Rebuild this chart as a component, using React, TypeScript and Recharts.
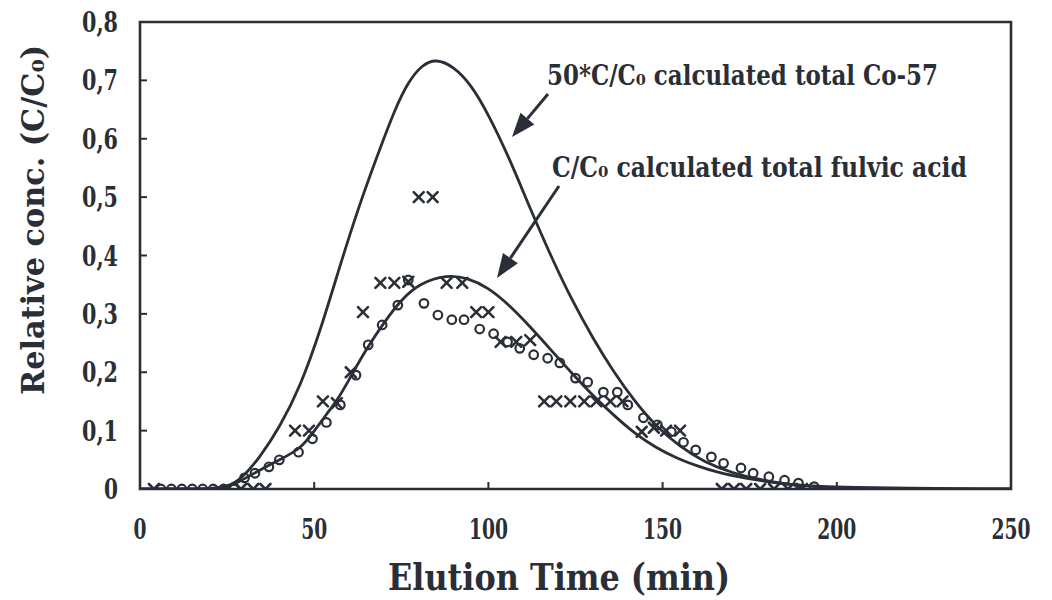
import React from 'react';
import { ComposedChart, Line, Scatter, XAxis, YAxis, ReferenceArea, Customized } from 'recharts';

const INK = '#2a2e36';
const FONT = '"DejaVu Serif", "Liberation Serif", serif';

const xTicks = [0, 50, 100, 150, 200, 250];
const yTicks = [0, 0.1, 0.2, 0.3, 0.4, 0.5, 0.6, 0.7, 0.8];

// calculated curve, 50*C/C0 total Co-57
const co57Time = [0, 10, 20, 25, 29, 34.5, 40, 46, 52, 58, 64, 69, 73, 77, 81, 85, 90, 95, 100, 106, 112, 118, 124, 130, 136, 142, 148, 155, 162, 170, 180, 190, 200, 215, 250];
const co57Value = [0, 0, 0, 0.004, 0.016, 0.055, 0.105, 0.175, 0.275, 0.395, 0.505, 0.585, 0.648, 0.698, 0.727, 0.737, 0.724, 0.693, 0.642, 0.567, 0.48, 0.398, 0.323, 0.258, 0.2, 0.15, 0.108, 0.072, 0.046, 0.027, 0.013, 0.005, 0.0015, 0, 0];

// calculated curve, C/C0 total fulvic acid
const fulvicTime = [0, 20, 25, 29, 34.5, 40, 46, 50, 53.5, 57, 61, 65, 70, 75, 80.5, 88, 94, 100, 106, 112, 118, 124, 130, 136, 142, 148, 154, 160, 166, 173, 185, 200, 250];
const fulvicValue = [0, 0, 0.002, 0.014, 0.033, 0.05, 0.068, 0.099, 0.128, 0.155, 0.198, 0.24, 0.285, 0.325, 0.353, 0.367, 0.362, 0.345, 0.315, 0.278, 0.238, 0.198, 0.16, 0.126, 0.095, 0.071, 0.053, 0.039, 0.028, 0.019, 0.008, 0.002, 0];

// measured, crosses
const crossTime = [4, 29, 32.5, 36, 44.5, 48.5, 52.5, 56.5, 60.5, 64, 69, 73, 77, 80, 84, 88, 92.5, 96.5, 100, 103.5, 108, 112, 116, 119.5, 123.5, 127.5, 131, 135, 138.5, 144, 147.5, 151, 155, 167, 170.5, 174, 178, 182, 186, 190];
const crossValue = [0, 0, 0, 0, 0.1, 0.1, 0.15, 0.147, 0.2, 0.303, 0.353, 0.353, 0.355, 0.5, 0.5, 0.353, 0.353, 0.303, 0.303, 0.252, 0.252, 0.255, 0.15, 0.15, 0.15, 0.15, 0.15, 0.15, 0.15, 0.098, 0.105, 0.1, 0.1, 0, 0, 0, 0, 0, 0, 0];

// measured, circles
const circleTime = [6, 9, 12, 15, 18, 21, 24, 27, 30, 33, 37, 40, 45.5, 49.5, 53.5, 57.5, 62, 65.5, 69.5, 74, 77, 81.5, 85.5, 89.5, 93, 97.5, 101.5, 105.5, 109, 113, 117, 120.5, 125, 128.5, 133, 137, 140, 144.5, 148.5, 152.5, 156, 159.5, 164, 167.5, 172.5, 176, 180.5, 185, 189, 193.5];
const circleValue = [0, 0, 0, 0, 0, 0, 0, 0, 0.019, 0.027, 0.038, 0.05, 0.063, 0.086, 0.114, 0.144, 0.195, 0.247, 0.281, 0.315, 0.358, 0.318, 0.298, 0.29, 0.29, 0.274, 0.266, 0.252, 0.241, 0.23, 0.224, 0.216, 0.19, 0.183, 0.166, 0.166, 0.144, 0.122, 0.11, 0.098, 0.08, 0.067, 0.055, 0.044, 0.036, 0.027, 0.021, 0.015, 0.01, 0.004];

const co57Curve = co57Time.map((t, i) => ({ t, v: co57Value[i] }));
const fulvicCurve = fulvicTime.map((t, i) => ({ t, v: fulvicValue[i] }));
const crossPoints = crossTime.map((t, i) => ({ t, v: crossValue[i] }));
const circlePoints = circleTime.map((t, i) => ({ t, v: circleValue[i] }));

const fmtY = (v: number) => (v === 0 ? '0' : v.toFixed(1).replace('.', ','));

function XTick({ x, y, payload }: any) {
  const label = String(payload.value);
  const edge = payload.value === 0 || payload.value === 250;
  return (
    <g>
      {!edge && <line x1={x} x2={x} y1={y} y2={y - 7} stroke={INK} strokeWidth={2} />}
      <text x={x} y={y + 50} textAnchor="middle" fill={INK} fontFamily={FONT} fontWeight="bold" fontSize={27}
        textLength={label.length * 13} lengthAdjust="spacingAndGlyphs">{label}</text>
    </g>
  );
}

function YTick({ x, y, payload }: any) {
  const label = fmtY(payload.value);
  const w = label.length === 1 ? 14 : 36;
  return (
    <g>
      <line x1={x} x2={x + 7} y1={y} y2={y} stroke={INK} strokeWidth={2} />
      <text x={x - 22} y={y + 10} textAnchor="end" fill={INK} fontFamily={FONT} fontWeight="bold" fontSize={27}
        textLength={w} lengthAdjust="spacingAndGlyphs">{label}</text>
    </g>
  );
}

const CrossMark = ({ cx, cy }: any) => (
  <g stroke={INK} strokeWidth={2.6} strokeLinecap="round">
    <line x1={cx - 5} y1={cy - 5} x2={cx + 5} y2={cy + 5} />
    <line x1={cx - 5} y1={cy + 5} x2={cx + 5} y2={cy - 5} />
  </g>
);

const CircleMark = ({ cx, cy }: any) => (
  <circle cx={cx} cy={cy} r={4.3} fill="none" stroke={INK} strokeWidth={2.2} />
);

function Arrow({ x1, y1, x2, y2 }: { x1: number; y1: number; x2: number; y2: number }) {
  const dx = x2 - x1;
  const dy = y2 - y1;
  const len = Math.sqrt(dx * dx + dy * dy);
  const ux = dx / len;
  const uy = dy / len;
  const hl = 24;
  const hw = 9;
  const bx = x2 - ux * hl;
  const by = y2 - uy * hl;
  return (
    <g>
      <line x1={x1} y1={y1} x2={bx} y2={by} stroke={INK} strokeWidth={3} />
      <polygon points={`${x2},${y2} ${bx - uy * hw},${by + ux * hw} ${bx + uy * hw},${by - ux * hw}`} fill={INK} />
    </g>
  );
}

function Annotations() {
  return (
    <g fill={INK} fontFamily={FONT} fontWeight="bold">
      <text x={547} y={85} fontSize={27} textLength={391} lengthAdjust="spacingAndGlyphs">
        50*C/C₀ calculated total Co-57
      </text>
      <text x={552} y={177} fontSize={27} textLength={415} lengthAdjust="spacingAndGlyphs">
        C/C₀ calculated total fulvic acid
      </text>
      <Arrow x1={548} y1={94} x2={512} y2={137} />
      <Arrow x1={559} y1={186} x2={497} y2={278} />
      <text x={559} y={590} fontSize={37} textAnchor="middle" textLength={342} lengthAdjust="spacingAndGlyphs">
        Elution Time (min)
      </text>
      <text x={0} y={0} fontSize={31} textAnchor="middle" textLength={350} lengthAdjust="spacingAndGlyphs"
        transform="translate(44 220) rotate(-90)">
        Relative conc. (C/C₀)
      </text>
    </g>
  );
}

export default function App() {
  return (
    <div style={{ position: 'absolute', left: 0, top: 0, width: 1052, height: 600, background: '#fff' }}>
      <ComposedChart width={1052} height={600} margin={{ top: 22, right: 41, left: 0, bottom: 0 }}>
        <XAxis dataKey="t" type="number" domain={[0, 250]} ticks={xTicks} height={111} axisLine={false}
          tickLine={false} tickSize={0} tickMargin={0} tick={<XTick />} interval={0} allowDataOverflow />
        <YAxis dataKey="v" type="number" domain={[0, 0.8]} ticks={yTicks} width={140} axisLine={false}
          tickLine={false} tickSize={0} tickMargin={0} tick={<YTick />} interval={0} allowDataOverflow />
        <ReferenceArea x1={0} x2={250} y1={0} y2={0.8} fill="none" stroke={INK} strokeWidth={2.6} />
        <Line data={co57Curve} dataKey="v" type="basis" stroke={INK} strokeWidth={2.8} dot={false} isAnimationActive={false} />
        <Line data={fulvicCurve} dataKey="v" type="basis" stroke={INK} strokeWidth={2.8} dot={false} isAnimationActive={false} />
        <Scatter data={circlePoints} dataKey="v" shape={<CircleMark />} isAnimationActive={false} />
        <Scatter data={crossPoints} dataKey="v" shape={<CrossMark />} isAnimationActive={false} />
        <Customized component={Annotations} />
      </ComposedChart>
    </div>
  );
}
